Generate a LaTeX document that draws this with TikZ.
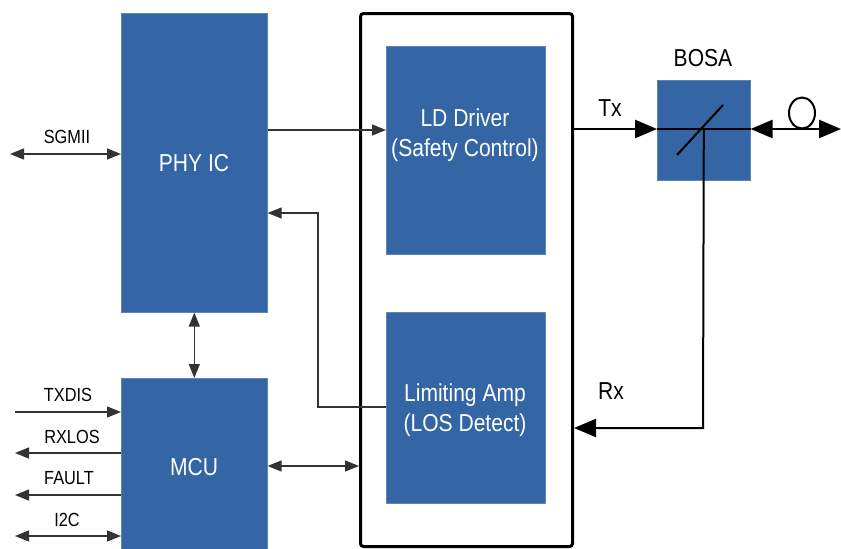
\documentclass[tikz,border=0pt]{standalone}
\usepackage{fontspec}
\setmainfont{Liberation Sans}[FakeStretch=0.86]
\usetikzlibrary{arrows.meta}
\definecolor{blockblue}{HTML}{3465A4}
\definecolor{thinline}{HTML}{333333}
\begin{document}
\begin{tikzpicture}[x=1pt,y=-1pt,
  block/.style={fill=blockblue, draw=blockblue!80!white, line width=0.6pt, inner sep=0pt, anchor=north west},
  blocktext/.style={text=white, font=\fontsize{24.5}{30}\selectfont, align=center, inner sep=0pt},
  lbl/.style={font=\fontsize{19}{21}\selectfont, inner sep=0pt},
  biglbl/.style={font=\fontsize{24.5}{28}\selectfont, inner sep=0pt},
  thinarrow/.style={line width=1.4pt, draw=thinline},
  thickline/.style={line width=2.6pt, draw=black},
  tip/.tip={Triangle[length=14pt,width=11pt]},
  bigtip/.tip={Triangle[length=22pt,width=18pt]}
]
\useasboundingbox[fill=white] (0,0) rectangle (841,549);

% blocks
\node[block, minimum width=146pt, minimum height=299pt] (phy) at (121,13) {};
\node[block, minimum width=146pt, minimum height=175pt] (mcu) at (121,378) {};
\node[draw=black, line width=3pt, rounded corners=3pt, minimum width=212pt, minimum height=533pt, inner sep=0pt, anchor=north west] (big) at (359,12) {};
\node[block, minimum width=159pt, minimum height=208pt] (ld) at (386,46) {};
\node[block, minimum width=159pt, minimum height=191pt] (la) at (386,312) {};
\node[block, minimum width=93pt, minimum height=100pt] (bosa) at (657,80) {};

% block texts
\node[blocktext] (phytxt) at (194,163) {PHY IC};
\node[blocktext] (mcutxt) at (194,467) {MCU};
\node[blocktext] (ldtxt) at (465,135) {LD Driver\\(Safety Control)};
\node[blocktext] (latxt) at (465,410) {Limiting Amp\\(LOS Detect)};

% labels
\node[biglbl] (bosalbl) at (703,58) {BOSA};
\node[biglbl] (txlbl) at (610,108) {Tx};
\node[biglbl] (rxlbl) at (611,391) {Rx};
\node[lbl] (sgmii) at (67,137) {SGMII};
\node[lbl] (txdis) at (68,395) {TXDIS};
\node[lbl] (rxlos) at (72,437) {RXLOS};
\node[lbl] (fault) at (69,478) {FAULT};
\node[lbl] (i2c) at (67,520) {I2C};

% free ends
\coordinate (sgl) at (10,154);
\coordinate (txdisl) at (15,412);
\coordinate (rxlosl) at (15,453);
\coordinate (faultl) at (15,495);
\coordinate (i2cl) at (15,536);
\coordinate (lacorner1) at (318,407);
\coordinate (lacorner2) at (318,213);
\coordinate (fiberend) at (841,129);
\coordinate (rxcorner) at (703,428);

% left side signals
\draw[thinarrow, tip-tip] (sgl) -- (phy.west |- sgl);
\draw[thinarrow, -tip] (txdisl) -- (mcu.west |- txdisl);
\draw[thinarrow, -tip] (mcu.west |- rxlosl) -- (rxlosl);
\draw[thinarrow, -tip] (mcu.west |- faultl) -- (faultl);
\draw[thinarrow, tip-tip] (i2cl) -- (mcu.west |- i2cl);

% internal connections
\draw[thinarrow, tip-tip] (phy.south) -- (mcu.north);
\draw[thinarrow, tip-tip] (mcu.east |- 0,466) -- (big.west |- 0,466);
\draw[thinarrow, -tip] (phy.east |- 0,130) -- (ld.west |- 0,130);
\draw[line width=1.1pt, draw=thinline, -tip] (la.west |- lacorner1) -- (lacorner1) -- (lacorner2) -- (phy.east |- lacorner2);

% Tx / Rx optical side
\draw[thickline, -bigtip] (big.east |- 0,129) -- (bosa.west |- 0,129);
\draw[thickline] (bosa.west |- 0,129) -- (bosa.east |- 0,129);
\draw[thickline, bigtip-bigtip] (bosa.east |- fiberend) -- (fiberend);
\draw[line width=2pt, draw=black, -bigtip] (bosa.center |- 0,129) -- (rxcorner) -- (big.east |- rxcorner);
\draw[line width=2pt] (677,155) -- (723,105);
\draw[line width=2pt] (802,113) ellipse [x radius=13, y radius=15.5];
\end{tikzpicture}
\end{document}
